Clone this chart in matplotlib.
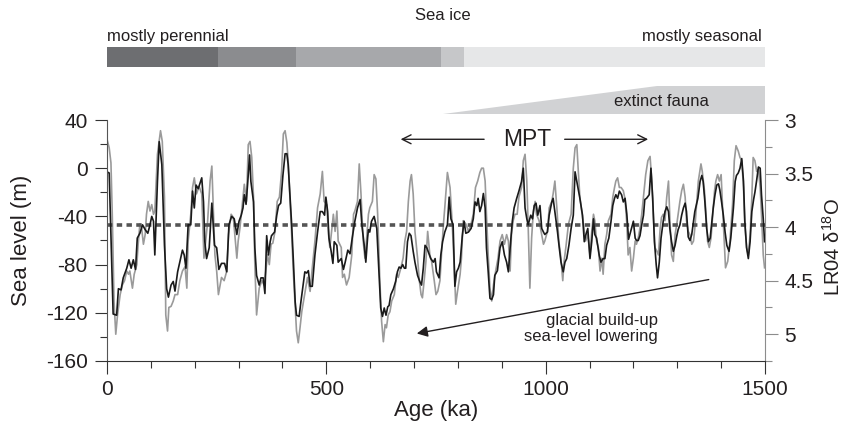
import matplotlib
matplotlib.use("Agg")
import matplotlib.pyplot as plt
from matplotlib.ticker import MultipleLocator, FormatStrFormatter

plt.rcParams['font.family'] = ['Liberation Sans', 'DejaVu Sans']
plt.rcParams['mathtext.fontset'] = 'custom'
plt.rcParams['mathtext.rm'] = 'Liberation Sans'
plt.rcParams['axes.unicode_minus'] = False

# Sea level reconstruction (black), age in ka and metres
sl_age = [0, 5, 14, 22, 26, 32, 37, 45, 50, 55, 60, 65, 69, 75, 81, 87, 93, 98, 102, 106,
          109, 115, 119, 125, 131, 136, 140, 146, 151, 155, 161, 166, 172, 176, 180, 185, 191, 195, 199, 203,
          208, 216, 220, 223, 227, 233, 239, 245, 250, 255, 261, 268, 273, 278, 284, 290, 296, 301, 306, 310,
          313, 317, 321, 325, 328, 334, 337, 341, 347, 351, 356, 360, 364, 368, 372, 375, 382, 387, 391, 396,
          401, 406, 410, 413, 417, 421, 425, 429, 432, 438, 442, 448, 451, 455, 459, 463, 468, 474, 480, 486,
          491, 496, 499, 503, 506, 511, 515, 518, 524, 527, 534, 539, 543, 549, 554, 559, 565, 571, 577, 581,
          587, 590, 594, 596, 599, 603, 609, 615, 620, 624, 628, 632, 636, 640, 643, 647, 653, 658, 662, 666,
          670, 674, 678, 681, 685, 689, 693, 698, 702, 708, 713, 717, 721, 725, 729, 732, 738, 744, 748, 751,
          757, 761, 765, 770, 776, 780, 784, 789, 793, 797, 801, 805, 810, 814, 818, 824, 830, 835, 839, 843,
          846, 850, 854, 858, 862, 865, 869, 873, 877, 881, 884, 890, 896, 901, 906, 911, 915, 919, 924, 928,
          934, 939, 945, 949, 953, 957, 960, 966, 970, 974, 978, 982, 987, 991, 995, 998, 1004, 1008, 1014, 1017,
          1021, 1027, 1031, 1035, 1040, 1044, 1048, 1053, 1058, 1063, 1067, 1071, 1074, 1078, 1084, 1088, 1091, 1096, 1101, 1105,
          1109, 1112, 1116, 1122, 1126, 1131, 1135, 1139, 1144, 1149, 1153, 1157, 1160, 1164, 1168, 1173, 1177, 1181, 1185, 1189,
          1192, 1196, 1200, 1204, 1207, 1211, 1215, 1219, 1223, 1226, 1230, 1236, 1240, 1244, 1248, 1252, 1255, 1259, 1263, 1268,
          1272, 1276, 1280, 1283, 1287, 1291, 1295, 1299, 1302, 1306, 1310, 1314, 1318, 1321, 1325, 1329, 1333, 1337, 1340, 1347,
          1352, 1356, 1359, 1363, 1367, 1371, 1375, 1378, 1382, 1386, 1390, 1394, 1397, 1401, 1405, 1409, 1413, 1418, 1422, 1428,
          1432, 1435, 1439, 1443, 1447, 1451, 1454, 1458, 1462, 1466, 1470, 1474, 1477, 1481, 1485, 1489, 1492, 1496, 1499]
sl_val = [-3, -4, -121, -122, -100, -101, -91, -83, -76, -83, -76, -84, -58, -54, -47, -51, -54, -47, -40, -44,
          -72, -11, 22, 3, -64, -100, -107, -97, -94, -102, -86, -78, -68, -72, -83, -47, -47, -19, -33, -14,
          -17, -8, -28, -61, -75, -66, -29, -64, -66, -84, -79, -79, -86, -47, -40, -42, -55, -44, -39, -33,
          -22, -30, -11, 11, -11, -28, -66, -89, -97, -91, -91, -104, -56, -72, -61, -56, -53, -39, -31, -29,
          -6, 12, 12, 3, -22, -47, -78, -111, -122, -123, -111, -94, -86, -87, -85, -98, -98, -72, -53, -36,
          -36, -39, -24, -36, -58, -69, -79, -61, -64, -78, -75, -84, -78, -68, -71, -58, -44, -33, -26, -47,
          -66, -78, -58, -51, -53, -44, -40, -50, -86, -116, -123, -116, -122, -115, -114, -105, -100, -94, -86, -82,
          -83, -80, -83, -83, -61, -54, -56, -69, -78, -89, -94, -97, -83, -64, -66, -69, -75, -78, -75, -86,
          -91, -72, -61, -53, -47, -24, -42, -47, -98, -86, -83, -78, -56, -44, -54, -53, -50, -42, -28, -31,
          -25, -36, -31, -21, -33, -66, -86, -108, -109, -105, -89, -85, -66, -61, -72, -78, -86, -66, -44, -33,
          -25, -19, -11, 0, -33, -42, -47, -39, -42, -31, -29, -39, -31, -50, -53, -55, -53, -39, -28, -25,
          -36, -53, -66, -78, -86, -78, -75, -64, -50, -39, -3, -11, -17, -25, -39, -61, -56, -50, -75, -61,
          -42, -55, -58, -72, -78, -75, -75, -64, -58, -44, -31, -25, -22, -25, -19, -22, -28, -25, -38, -59,
          -55, -50, -44, -58, -60, -60, -56, -47, -39, -26, -25, -22, 0, -25, -61, -80, -91, -78, -58, -44,
          -36, -32, -36, -50, -61, -69, -64, -56, -51, -47, -39, -33, -29, -36, -57, -60, -55, -44, -36, -25,
          -11, -6, -11, -28, -50, -61, -58, -47, -33, -22, -14, -13, -18, -28, -39, -53, -64, -69, -58, -33,
          -11, -6, -4, 0, 8, -11, -44, -66, -75, -61, -36, -26, -20, -10, 1, 0, -22, -42, -61]

# LR04 benthic d18O stack (grey), age in ka and permil
d18o_age = [0, 5, 9, 12, 16, 20, 24, 30, 35, 40, 45, 49, 52, 58, 62, 68, 71, 75, 79, 83,
            87, 90, 94, 98, 102, 106, 109, 115, 122, 126, 131, 134, 138, 141, 146, 151, 155, 161, 166, 172,
            178, 182, 185, 191, 195, 199, 204, 210, 216, 221, 225, 229, 235, 239, 242, 246, 250, 254, 258, 261,
            267, 273, 277, 283, 288, 292, 296, 299, 303, 309, 313, 318, 322, 326, 330, 334, 337, 341, 347, 353,
            358, 362, 366, 370, 374, 378, 383, 388, 393, 398, 402, 406, 410, 413, 417, 421, 425, 429, 432, 436,
            440, 444, 448, 453, 457, 463, 468, 474, 480, 486, 491, 495, 501, 505, 508, 512, 516, 520, 524, 527,
            534, 537, 541, 546, 552, 558, 562, 565, 571, 575, 579, 584, 588, 592, 596, 599, 605, 609, 613, 617,
            622, 626, 630, 634, 637, 641, 645, 649, 655, 660, 664, 670, 675, 679, 683, 687, 691, 694, 698, 702,
            708, 712, 716, 719, 723, 727, 731, 736, 740, 746, 750, 754, 759, 763, 767, 770, 776, 782, 787, 792,
            795, 799, 805, 808, 812, 818, 824, 830, 835, 840, 845, 850, 854, 858, 862, 865, 869, 873, 877, 881,
            886, 891, 896, 901, 906, 911, 915, 919, 922, 926, 930, 935, 939, 945, 949, 953, 957, 960, 964, 968,
            972, 976, 979, 985, 991, 995, 998, 1004, 1008, 1014, 1017, 1021, 1026, 1030, 1034, 1039, 1042, 1046, 1052, 1058,
            1063, 1067, 1071, 1074, 1078, 1084, 1088, 1091, 1096, 1101, 1105, 1109, 1112, 1116, 1120, 1124, 1128, 1131, 1135, 1139,
            1143, 1149, 1153, 1157, 1160, 1164, 1168, 1172, 1177, 1181, 1185, 1188, 1192, 1196, 1200, 1204, 1207, 1211, 1215, 1219,
            1223, 1228, 1233, 1238, 1242, 1245, 1249, 1253, 1257, 1261, 1264, 1268, 1272, 1276, 1280, 1283, 1287, 1291, 1295, 1299,
            1302, 1306, 1310, 1314, 1318, 1321, 1325, 1329, 1333, 1337, 1340, 1344, 1348, 1354, 1357, 1362, 1366, 1369, 1373, 1377,
            1381, 1385, 1388, 1392, 1396, 1400, 1403, 1407, 1410, 1415, 1420, 1426, 1430, 1434, 1439, 1443, 1447, 1451, 1454, 1458,
            1462, 1466, 1470, 1473, 1477, 1481, 1485, 1489, 1492, 1496, 1499]
d18o_val = [3.18, 3.26, 3.40, 3.88, 4.69, 5.00, 4.82, 4.63, 4.54, 4.50, 4.41, 4.44, 4.41, 4.57, 4.44, 4.35, 4.16, 3.97, 4.01, 4.16,
            4.07, 3.88, 3.76, 3.85, 3.79, 3.88, 3.85, 3.32, 3.10, 3.20, 3.72, 4.82, 4.97, 4.75, 4.74, 4.69, 4.63, 4.63, 4.50, 4.41,
            4.37, 4.57, 4.13, 3.88, 3.63, 3.54, 3.69, 3.62, 3.69, 4.29, 4.13, 3.97, 3.57, 3.43, 3.79, 4.26, 4.41, 4.63, 4.54, 4.47,
            4.50, 4.41, 4.07, 3.88, 3.91, 4.10, 4.29, 4.13, 4.01, 3.76, 3.60, 3.76, 3.23, 3.20, 3.35, 3.72, 4.35, 4.82, 4.57, 4.50,
            4.54, 4.41, 4.26, 4.35, 4.16, 4.15, 4.04, 3.76, 3.72, 3.48, 3.13, 3.10, 3.21, 3.38, 3.72, 4.07, 4.44, 4.75, 4.97, 5.08,
            4.94, 4.79, 4.69, 4.57, 4.47, 4.60, 4.38, 4.13, 3.82, 3.69, 3.48, 3.76, 3.79, 4.07, 4.19, 4.04, 3.88, 4.04, 3.85, 4.13,
            4.19, 4.47, 4.44, 4.54, 4.47, 4.26, 3.88, 3.85, 3.76, 3.41, 3.69, 4.13, 4.29, 4.10, 3.88, 3.82, 3.76, 3.51, 3.55, 3.88,
            4.50, 4.88, 5.07, 4.91, 4.94, 4.82, 4.79, 4.69, 4.63, 4.44, 4.47, 4.38, 4.29, 4.13, 4.04, 3.76, 3.57, 3.51, 3.69, 4.04,
            4.29, 4.50, 4.63, 4.66, 4.50, 4.32, 4.04, 4.26, 4.32, 4.50, 4.63, 4.60, 4.50, 4.22, 3.97, 3.82, 3.49, 3.63, 3.97, 4.41,
            4.72, 4.60, 4.44, 4.29, 3.94, 3.97, 4.04, 3.97, 3.88, 3.63, 3.57, 3.49, 3.45, 3.45, 3.57, 3.88, 4.26, 4.57, 4.69, 4.54,
            4.41, 4.30, 4.13, 4.07, 4.16, 4.07, 4.13, 4.41, 4.07, 3.94, 3.88, 3.88, 3.72, 3.63, 3.38, 3.32, 3.57, 3.97, 4.57, 4.10,
            3.85, 3.76, 3.88, 3.94, 4.07, 4.16, 4.13, 4.04, 3.82, 3.76, 3.69, 3.57, 3.85, 4.13, 4.26, 4.50, 4.32, 4.19, 3.97, 3.88,
            3.45, 3.26, 3.23, 3.45, 3.72, 3.91, 4.04, 4.13, 4.07, 4.26, 4.04, 3.88, 3.94, 4.13, 4.19, 4.41, 4.29, 4.44, 4.16, 4.07,
            3.94, 3.88, 3.72, 3.63, 3.57, 3.54, 3.63, 3.63, 3.66, 3.74, 3.97, 4.26, 4.19, 4.41, 4.29, 4.13, 4.16, 4.10, 4.01, 3.88,
            3.72, 3.51, 3.38, 3.34, 3.57, 3.85, 4.19, 4.22, 4.26, 4.01, 3.91, 3.88, 3.94, 3.72, 3.57, 3.91, 4.26, 4.32, 4.07, 3.97,
            3.88, 3.76, 3.66, 3.60, 3.72, 3.94, 4.04, 4.07, 4.16, 4.13, 4.01, 3.79, 3.57, 3.41, 3.48, 3.66, 3.91, 4.13, 4.19, 4.10,
            3.88, 3.66, 3.57, 3.51, 3.57, 3.51, 3.79, 4.13, 4.38, 4.32, 4.13, 3.79, 3.38, 3.24, 3.29, 3.35, 3.38, 3.63, 3.97, 4.19,
            4.26, 4.07, 3.72, 3.35, 3.38, 3.48, 3.46, 3.63, 3.88, 4.26, 4.38]

# sea-ice regime bar (ka boundaries) and extinct fauna wedge
ice_edges = [0, 253, 431, 761, 814, 1500]
ice_colors = ['#6d6e71', '#8b8c8f', '#a7a8ab', '#c6c7c9', '#e6e7e8']
fauna_age = [766, 1254, 1500]
mean_sea_level = -47

fig = plt.figure(figsize=(8.45, 4.36), dpi=100)

# --- top panel: sea ice + extinct fauna
ax_top = fig.add_axes([107 / 845, (436 - 118) / 436, 658 / 845, 118 / 436])
ax_top.set_xlim(0, 1500)
ax_top.set_ylim(118, 0)
ax_top.axis('off')
bars = [(ice_edges[i], ice_edges[i + 1] - ice_edges[i]) for i in range(len(ice_colors))]
ax_top.broken_barh(bars, (47.3, 19.4), facecolors=ice_colors)
ax_top.fill([fauna_age[0], fauna_age[1], fauna_age[2], fauna_age[2]], [114, 86, 86, 114],
            color='#d1d2d4', lw=0)
ax_top.text(766, 15, 'Sea ice', ha='center', va='center', fontsize=12, color='#231f20')
ax_top.text(0, 36, 'mostly perennial', ha='left', va='center', fontsize=12, color='#231f20')
ax_top.text(1493, 36, 'mostly seasonal', ha='right', va='center', fontsize=12, color='#231f20')
ax_top.text(1265, 101, 'extinct fauna', ha='center', va='center', fontsize=12, color='#231f20')

# --- main panel
ax = fig.add_axes([107 / 845, 75 / 436, 658 / 845, 241 / 436])
ax2 = ax.twinx()
ax.set_zorder(ax2.get_zorder() + 1)
ax.patch.set_visible(False)

ax2.plot(d18o_age, d18o_val, color='#9a9a9a', lw=1.2)
ax.axhline(mean_sea_level, color='#555555', lw=2.6, ls=(0, (1.5, 1.2)), zorder=1)
ax.plot(sl_age, sl_val, color='#1a1a1a', lw=1.2, zorder=2)

ax.set_xlim(0, 1500)
ax.set_ylim(-160, 40)
ax2.set_ylim(5.25, 3)

ax.xaxis.set_major_locator(MultipleLocator(500))
ax.xaxis.set_minor_locator(MultipleLocator(100))
ax.yaxis.set_major_locator(MultipleLocator(40))
ax.yaxis.set_minor_locator(MultipleLocator(20))
ax2.yaxis.set_major_locator(MultipleLocator(0.5))
ax2.yaxis.set_minor_locator(MultipleLocator(0.25))
ax2.yaxis.set_major_formatter(FormatStrFormatter('%g'))

for a in (ax, ax2):
    a.spines['top'].set_visible(False)
ax.spines['right'].set_visible(False)
ax2.spines['left'].set_visible(False)
ax2.spines['bottom'].set_visible(False)
ax.spines['left'].set_color('#555555')
ax.spines['bottom'].set_color('#333333')
ax2.spines['right'].set_color('#8c8c8c')

ax.tick_params(axis='both', which='major', length=9, width=0.8, labelsize=15, pad=5,
               colors='#333333', labelcolor='#231f20')
ax.tick_params(axis='both', which='minor', length=5, width=0.8, colors='#333333')
ax2.tick_params(axis='y', which='major', length=9, width=0.8, labelsize=15, pad=5,
                colors='#8c8c8c', labelcolor='#231f20')
ax2.tick_params(axis='y', which='minor', length=5, width=0.8, colors='#8c8c8c')

ax.set_xlabel('Age (ka)', fontsize=16, color='#231f20')
ax.xaxis.label.set_va('center')
ax.xaxis.set_label_coords(0.5, (361 - 410) / 241)
ax.set_ylabel('Sea level (m)', fontsize=16, color='#231f20')
ax.yaxis.label.set_va('center')
ax.yaxis.set_label_coords((22 - 107) / 658, 0.5)
ax2.set_ylabel('LR04 δ$^{18}$O', fontsize=14.5, color='#231f20')
ax2.yaxis.label.set_va('center')
ax2.yaxis.set_label_coords((833 - 107) / 658, 0.473)

# annotations
ax.text(957, 24, 'MPT', ha='center', va='center', fontsize=16.5, color='#231f20')
ax.annotate('', xy=(663, 24), xytext=(866, 24),
            arrowprops=dict(arrowstyle='->', color='#231f20', lw=1.0, mutation_scale=16))
ax.annotate('', xy=(1240, 24), xytext=(1037, 24),
            arrowprops=dict(arrowstyle='->', color='#231f20', lw=1.0, mutation_scale=16))
ax.annotate('', xy=(700, -137.6), xytext=(1378, -92),
            arrowprops=dict(arrowstyle='-|>', color='#231f20', lw=1.0, mutation_scale=16))
ax.text(1256, -133, 'glacial build-up\nsea-level lowering', ha='right', va='center',
        multialignment='right', fontsize=12, linespacing=1.1, color='#231f20')

fig.savefig('out.png', dpi=100)
